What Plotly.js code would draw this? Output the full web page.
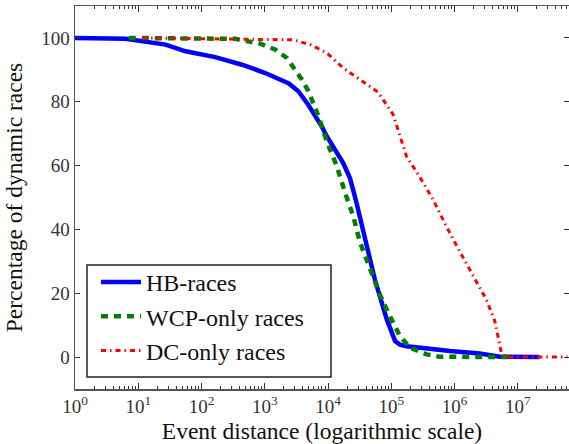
<!DOCTYPE html>
<html>
<head>
<meta charset="utf-8">
<script src="https://cdn.plot.ly/plotly-3.0.1.min.js"></script>
<style>html,body{margin:0;padding:0;background:#fff;}
#chart text, #chart tspan { font-family: "Liberation Serif" !important; }</style>
</head>
<body>
<div id="chart" style="width:569px;height:444px;"></div>
<script>
// Series names
var seriesNames = ["HB-races", "WCP-only races", "DC-only races"];

// HB-races
var hbX = [1, 3.2, 6.3, 27, 56, 165, 437, 1020, 2400, 3400, 4900, 7950, 9550, 17400, 22300, 27700, 36100, 55000, 85000, 115000, 137000, 175000, 850000, 2.5e6, 5.2e6, 2.2e7];
var hbY = [100, 99.9, 99.7, 97.9, 95.8, 94, 91.6, 89, 85.7, 83.3, 79, 72.3, 69.2, 60.8, 56, 49, 40, 24.3, 11.8, 5, 3.9, 3.4, 1.9, 1.1, 0.1, 0];

// WCP-only races
var wcpX = [7.1, 340, 850, 1480, 2240, 3030, 3870, 4900, 7080, 9550, 13800, 18600, 25100, 32100, 46000, 66000, 95000, 137000, 198000, 363000, 585000, 7.4e6];
var wcpY = [100, 99.7, 98.2, 96.3, 93.7, 90, 86.9, 83.3, 75.4, 67.6, 59.8, 51.5, 44.1, 35.9, 27.5, 19.6, 12.8, 6.6, 2.9, 0.85, 0.1, 0];

// DC-only races
var dcX = [11.5, 1750, 2820, 5250, 9550, 17400, 32100, 58900, 66000, 107000, 174000, 282000, 457000, 741000, 1.2e6, 1.96e6, 3.17e6, 4.33e6, 4.9e6, 5.5e6, 6.6e6, 6.1e7];
var dcY = [100, 99.6, 99.4, 97.9, 95.3, 90.6, 86.9, 83.3, 82.2, 76, 62.9, 56.4, 49.4, 41, 33.2, 25.4, 18.1, 11.3, 6.6, 1.4, 0, 0];

// Axis ticks
var xTickVals = [1, 10, 100, 1000, 10000, 100000, 1000000, 10000000];
var xTickText = ["10<sup>0</sup>", "10<sup>1</sup>", "10<sup>2</sup>", "10<sup>3</sup>", "10<sup>4</sup>", "10<sup>5</sup>", "10<sup>6</sup>", "10<sup>7</sup>"];
var yTickVals = [0, 20, 40, 60, 80, 100];

var FONT = "Liberation Serif";

var traces = [
  {x: hbX, y: hbY, name: seriesNames[0], mode: "lines", legendgroup: "a",
   line: {color: "#0000ff", width: 4.5, dash: "solid"}},
  {x: wcpX, y: wcpY, name: seriesNames[1], mode: "lines", legendgroup: "b",
   line: {color: "#007f00", width: 4.5, dash: "7px,6px"}},
  {x: dcX, y: dcY, name: seriesNames[2], mode: "lines", legendgroup: "c",
   line: {color: "#ff0000", width: 3, dash: "5px,4px,1.5px,4px"}}
];

var layout = {
  width: 569, height: 444,
  margin: {l: 75, r: 0, t: 6, b: 55, pad: 0},
  paper_bgcolor: "#fff", plot_bgcolor: "#fff",
  font: {family: FONT, size: 19, color: "#111"},
  showlegend: true,
  legend: {
    x: 0.0425, y: 0.3368, xanchor: "left", yanchor: "top",
    bgcolor: "rgba(0,0,0,0)", borderwidth: 0,
    font: {family: FONT, size: 24, color: "#111"},
    itemwidth: 40, tracegroupgap: 0
  },
  shapes: [{
    type: "rect", xref: "paper", yref: "paper", layer: "below",
    x0: 0.0243, x1: 0.5182, y0: 0.0313, y1: 0.3238,
    fillcolor: "#fff", line: {color: "#222", width: 1.5}
  }],
  xaxis: {
    type: "log", range: [0, 7.81],
    showline: true, linecolor: "#555", linewidth: 1.5, mirror: "ticks",
    ticks: "inside", tickcolor: "#333", tickwidth: 1, showgrid: false, zeroline: false,
    tickfont: {family: FONT, size: 19, color: "#333"},
    tickmode: "array", tickvals: xTickVals, ticktext: xTickText, ticklen: 6,
    minor: {ticks: "inside", ticklen: 3, dtick: "D1", tickcolor: "#333", showgrid: false},
    title: {text: "Event distance (logarithmic scale)", font: {family: FONT, size: 23.5, color: "#111"}, standoff: 10},
    automargin: false
  },
  yaxis: {
    range: [-10, 110],
    showline: true, linecolor: "#555", linewidth: 1.5, mirror: "ticks",
    ticks: "inside", tickcolor: "#333", tickwidth: 1, showgrid: false, zeroline: false,
    tickfont: {family: FONT, size: 19, color: "#333"},
    tickmode: "array", tickvals: yTickVals, ticklen: 5,
    title: {text: "Percentage of dynamic races", font: {family: FONT, size: 23.5, color: "#111"}, standoff: 12},
    automargin: false
  }
};

Plotly.newPlot("chart", traces, layout, {displayModeBar: false, staticPlot: true});
</script>
</body>
</html>
